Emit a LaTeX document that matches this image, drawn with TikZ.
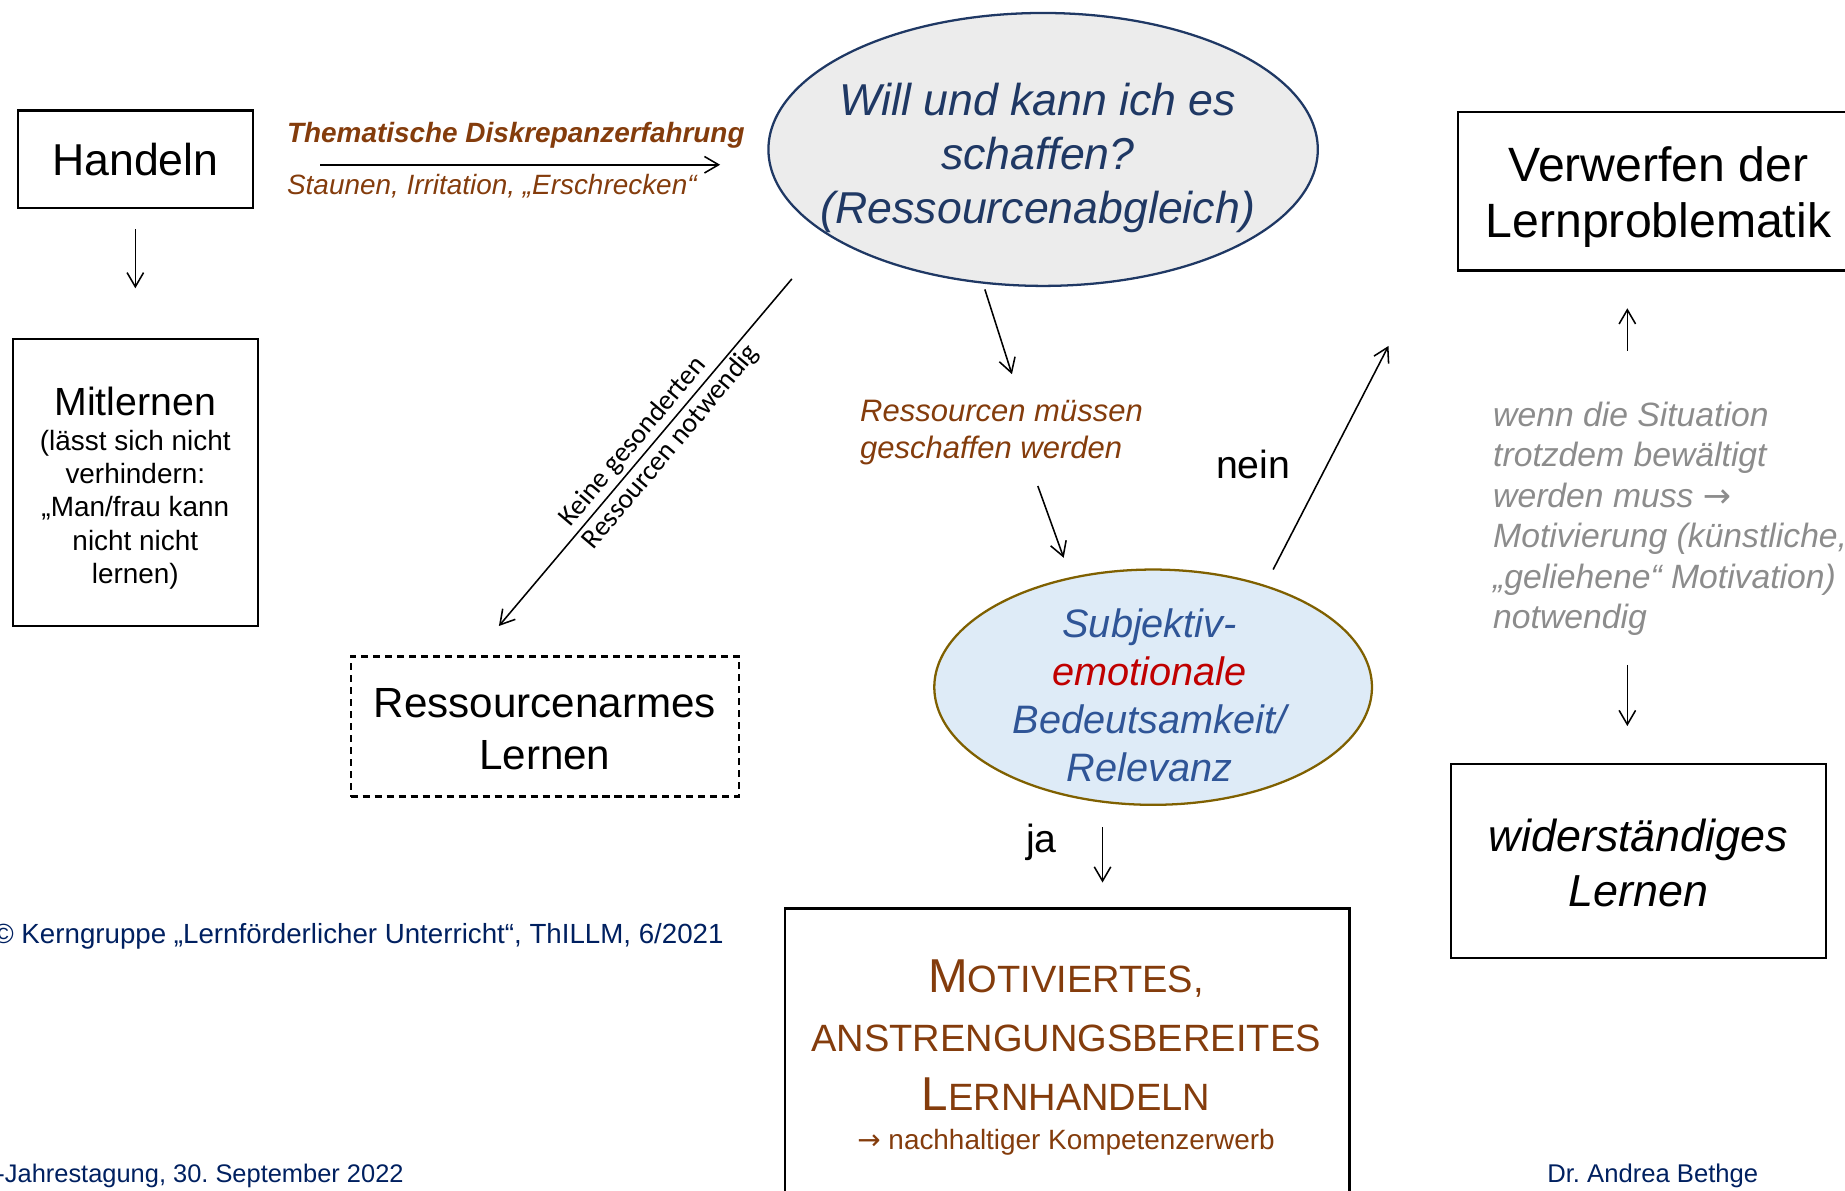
\documentclass[tikz,border=0pt]{standalone}
\usepackage{fontspec}
\setmainfont{Liberation Sans}
\newfontfamily\calibri{Carlito}
\newfontfamily\symfont{DejaVu Sans}
\usetikzlibrary{shapes.geometric,arrows.meta}

\definecolor{braun}{RGB}{132,60,12}
\definecolor{navy}{RGB}{31,56,100}
\definecolor{blau}{RGB}{47,85,151}
\definecolor{rot}{RGB}{192,0,0}
\definecolor{hellgrau}{RGB}{236,236,236}
\definecolor{hellblau}{RGB}{222,235,247}
\definecolor{oliv}{RGB}{127,96,0}
\definecolor{grautext}{RGB}{140,140,140}
\definecolor{fussblau}{RGB}{0,32,96}

\begin{document}
\frenchspacing
\begin{tikzpicture}[x=0.02cm,y=-0.02cm,every node/.style={outer sep=0pt,inner sep=0pt}]
\tikzstyle{box}=[draw,line width=1.1pt]
\tikzstyle{dashbox}=[box,dash pattern=on 3.4pt off 2.4pt]
\tikzstyle{bubble}=[ellipse,draw,line width=1.1pt]
\tikzstyle{arr}=[line width=0.75pt,-{Straight Barb[length=2.4mm,width=2.8mm]}]

\useasboundingbox (0,0) rectangle (1568,1012);

\node (handeln) [box,minimum width=4cm,minimum height=1.66cm,font=\fontsize{21.6}{26}\selectfont] at (115,135.5) {Handeln};
\node (mitlernen) [box,minimum width=4.16cm,minimum height=4.88cm] at (115,410) {};
\node (mitlernenText) [align=center,font=\fontsize{13.5}{16.1}\selectfont] at (115,415) {{\fontsize{19}{23}\selectfont Mitlernen}\\[0.6pt](lässt sich nicht\\verhindern:\\„Man/frau kann\\nicht nicht\\lernen)};
\draw [arr] (handeln.south) ++(0,18) -- ++(0,50);

\node (thema) [anchor=west,text=braun,font=\fontsize{13.5}{16}\selectfont\bfseries\itshape] at (244,115) {Thematische Diskrepanzerfahrung};
\node (staunen) [anchor=west,text=braun,font=\fontsize{13.5}{16}\selectfont\itshape] at (244,158) {Staunen, Irritation, „Erschrecken“};
\draw [arr] (handeln.east) ++(57,4.5) -- ++(340,0);

\node (frage) [bubble,draw=navy,fill=hellgrau,minimum width=9.34cm,minimum height=4.64cm] at (886.5,127) {};
\node (frageText) [align=center,text=navy,font=\fontsize{21.6}{26.2}\selectfont\itshape] at (882,134) {Will und kann ich es\\schaffen?\\(Ressourcenabgleich)};

% keine gesonderten Ressourcen
\draw [arr] (frage.center) ++(-213.5,110) -- ++(-249,295)
  node (keine) [pos=0.5,sloped,above,inner sep=2pt,font=\calibri\fontsize{13.5}{16}\selectfont] {Keine gesonderten}
  node (notwendig) [pos=0.455,sloped,below,inner sep=2pt,font=\calibri\fontsize{13.5}{16}\selectfont] {Ressourcen notwendig};
\node (armes) [dashbox,minimum width=6.6cm,minimum height=2.38cm] at (463,617.5) {};
\node (armesText) [align=center,font=\fontsize{20.4}{25.2}\selectfont] at (463,620) {Ressourcenarmes\\Lernen};

% Ressourcen muessen geschaffen werden
\draw [arr] (frage.south) ++(-49.5,3) -- ++(23,72);
\node (muessen) [anchor=west,align=left,text=braun,font=\fontsize{15}{17.6}\selectfont\itshape] at (731,367.5) {Ressourcen müssen\\geschaffen werden};

\node (relevanz) [bubble,draw=oliv,fill=hellblau,minimum width=7.44cm,minimum height=4cm] at (980,584) {};
\node (relevanzText) [align=center,text=blau,font=\fontsize{19.2}{23.2}\selectfont\itshape] at (977,591) {Subjektiv-\\\textcolor{rot}{emotionale}\\Bedeutsamkeit/\\Relevanz};
\draw [arr] (relevanz.north) ++(-98,-71) -- ++(22,61);

\node (nein) [font=\fontsize{19}{23}\selectfont] at (1065,395) {nein};
\draw [arr] (relevanz.center) ++(102,-100) -- ++(98,-190);

% ja
\node (motiviert) [box,minimum width=9.6cm,minimum height=5.4cm,anchor=north] at (907,772) {};
\node (motivText) [align=center,text=braun,font=\fontsize{18.4}{28.5}\selectfont] at (906,898.5) {{\fontsize{23}{28}\selectfont M}OTIVIERTES,\\ANSTRENGUNGSBEREITES\\{\fontsize{23}{28}\selectfont L}ERNHANDELN\\[-9.7pt]{\fontsize{13.5}{16}\selectfont{\symfont →} nachhaltiger Kompetenzerwerb}};
\node (ja) [font=\fontsize{19}{23}\selectfont] at (885,716) {ja};
\draw [arr] (motiviert.north) ++(30,-69) -- ++(0,47);

% rechte Spalte
\node (verwerfen) [box,minimum width=6.82cm,minimum height=2.7cm] at (1409.5,162.5) {};
\node (verwerfenText) [align=center,font=\fontsize{23.3}{27}\selectfont] at (1409.5,167.5) {Verwerfen der\\Lernproblematik};
\node (widerstand) [box,minimum width=6.38cm,minimum height=3.3cm] at (1392.5,731.5) {};
\node (widerstandText) [align=center,font=\fontsize{21.7}{26.7}\selectfont\itshape] at (1392.5,733.5) {widerständiges\\Lernen};
\node (wenn) [anchor=west,align=left,text=grautext,font=\fontsize{16.3}{19.6}\selectfont\itshape] at (1269,441) {wenn die Situation\\trotzdem bewältigt\\werden muss {\symfont →}\\Motivierung (künstliche,\\„geliehene“ Motivation)\\notwendig};
\draw [arr] (verwerfen.south) ++(-26.5,68) -- ++(0,-36);
\draw [arr] (widerstand.north) ++(-9.5,-84) -- ++(0,52);

% Fusszeile
\node (copyright) [anchor=east,text=fussblau,font=\fontsize{13.4}{15}\selectfont] at (615,796) {© Kerngruppe „Lernförderlicher Unterricht“, ThILLM, 6/2021};
\node (tagung) [anchor=east,text=fussblau,font=\fontsize{12.3}{14}\selectfont] at (343,999) {-Jahrestagung, 30. September 2022};
\node (autorin) [anchor=west,text=fussblau,font=\fontsize{12.4}{14}\selectfont] at (1315,999) {Dr. Andrea Bethge};
\end{tikzpicture}
\end{document}
